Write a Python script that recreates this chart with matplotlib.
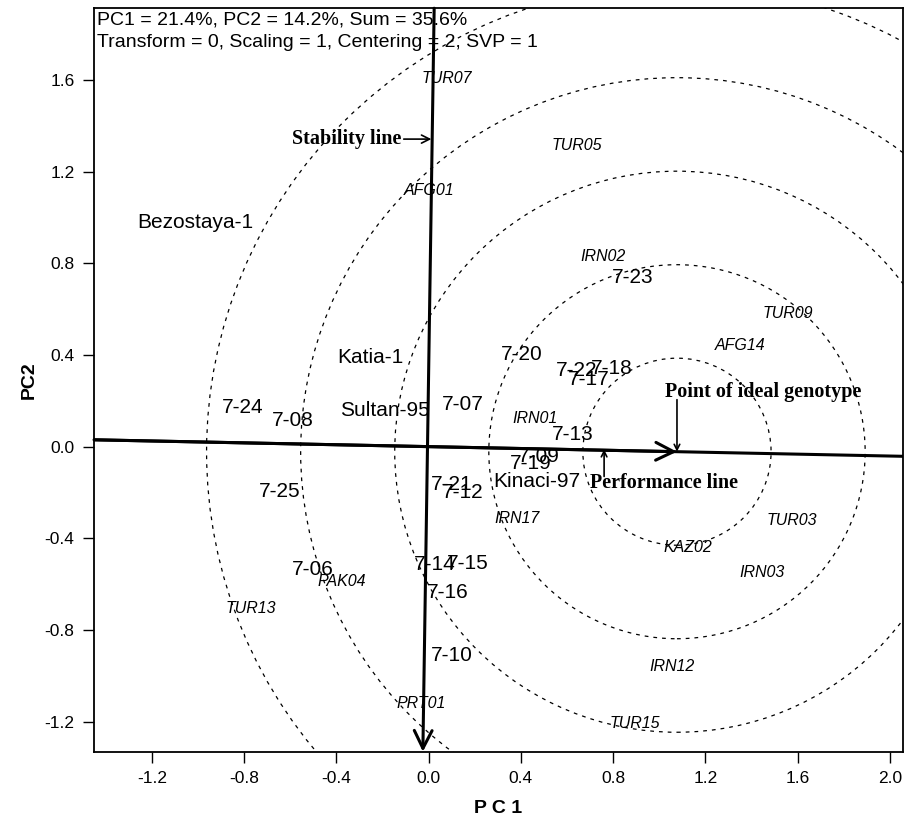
import numpy as np
from matplotlib import pyplot as plt
from matplotlib.patches import Circle

plt.rcParams['font.family'] = ['Liberation Sans', 'DejaVu Sans']

# genotypes (normal text)
gen_names = ["Bezostaya-1", "Katia-1", "Sultan-95", "7-24", "7-08", "7-07",
             "7-20", "7-23", "7-22", "7-18", "7-17", "7-13", "7-09", "7-19",
             "Kinaci-97", "7-21", "7-12", "7-25", "7-06", "7-14", "7-15",
             "7-16", "7-10"]
gen_x = [-1.013, -0.254, -0.189, -0.805, -0.588, 0.150, 0.406, 0.883, 0.640,
         0.796, 0.696, 0.623, 0.479, 0.445, 0.471, 0.102, 0.146, -0.644,
         -0.501, 0.028, 0.171, 0.085, 0.102]
gen_y = [0.980, 0.387, 0.160, 0.173, 0.116, 0.186, 0.400, 0.740, 0.334,
         0.343, 0.291, 0.051, -0.045, -0.075, -0.154, -0.167, -0.202, -0.194,
         -0.538, -0.516, -0.508, -0.638, -0.909]

# environments (italic text)
env_names = ["TUR07", "TUR05", "AFG01", "IRN02", "TUR09", "AFG14", "IRN01",
             "IRN17", "TUR03", "KAZ02", "IRN03", "PAK04", "TUR13", "IRN12",
             "PRT01", "TUR15"]
env_x = [0.080, 0.644, 0.002, 0.757, 1.559, 1.351, 0.462, 0.383, 1.577,
         1.126, 1.447, -0.375, -0.770, 1.056, -0.033, 0.896]
env_y = [1.608, 1.316, 1.119, 0.831, 0.582, 0.443, 0.125, -0.313, -0.324,
         -0.438, -0.547, -0.590, -0.708, -0.957, -1.119, -1.206]

ideal = (1.077, -0.022)
ring_radii = [0.408, 0.816, 1.224, 1.632, 2.040]
perf_line_x = [-1.451, 2.057]
perf_line_y = [0.030, -0.042]
stab_top = (0.024, 1.913)
stab_bottom = (-0.025, -1.331)

header = ["PC1 = 21.4%, PC2 = 14.2%, Sum = 35.6%",
          "Transform = 0, Scaling = 1, Centering = 2, SVP = 1"]

fig = plt.figure(figsize=(9.13, 8.23), dpi=100)
ax = fig.add_axes([0.103, 0.0866, 0.886, 0.9034])
ax.set_xlim(-1.451, 2.057)
ax.set_ylim(-1.331, 1.913)

# concentric rings around the ideal genotype
for r in ring_radii:
    c = Circle(ideal, r, fill=False, ls=(0, (3, 4)), lw=0.9, color="black")
    ax.add_patch(c)

# performance line (ATC abscissa)
ax.plot(perf_line_x, perf_line_y, color="black", lw=2.2)
ax.annotate("", xy=ideal, xytext=(perf_line_x[0], perf_line_y[0]),
            arrowprops=dict(arrowstyle="->", lw=2.2, mutation_scale=32,
                            color="black", shrinkA=0, shrinkB=0))

# stability line (ATC ordinate)
ax.annotate("", xy=stab_bottom, xytext=stab_top,
            arrowprops=dict(arrowstyle="->", lw=2.2, mutation_scale=32,
                            color="black", shrinkA=0, shrinkB=0))

for n, x, y in zip(gen_names, gen_x, gen_y):
    ax.text(x, y, n, fontsize=15, ha="center", va="center")
for n, x, y in zip(env_names, env_x, env_y):
    ax.text(x, y, n, fontsize=11.5, style="italic", ha="center", va="center")

serif = dict(family="Liberation Serif", fontweight="bold", fontsize=14.5)
small_arrow = dict(arrowstyle="->", lw=1.2, color="black",
                   shrinkA=0, shrinkB=0)

ax.annotate("Stability line", xy=(0.012, 1.342), xytext=(-0.12, 1.342),
            ha="right", va="center", arrowprops=small_arrow, **serif)

ax.text(1.026, 0.238, "Point of ideal genotype", ha="left", va="center",
        **serif)
ax.annotate("", xy=ideal, xytext=(ideal[0], 0.205), arrowprops=small_arrow)

ax.text(0.70, -0.158, "Performance line", ha="left", va="center", **serif)
ax.annotate("", xy=(0.761, -0.012), xytext=(0.761, -0.13),
            arrowprops=small_arrow)

ax.text(0.004, 0.995, header[0] + "\n" + header[1], transform=ax.transAxes,
        ha="left", va="top", fontsize=14, linespacing=1.4)

ax.set_xticks(np.arange(-1.2, 2.01, 0.4))
ax.set_yticks(np.arange(-1.2, 1.61, 0.4))
ax.xaxis.set_major_formatter(plt.FormatStrFormatter("%.1f"))
ax.yaxis.set_major_formatter(plt.FormatStrFormatter("%.1f"))
ax.tick_params(direction="out", length=8, width=1, labelsize=12.5, pad=6)
for s in ax.spines.values():
    s.set_linewidth(1.3)

ax.set_xlabel("P C 1", fontsize=14, fontweight="bold", labelpad=10)
ax.set_ylabel("PC2", fontsize=14, fontweight="bold", labelpad=5)

fig.savefig("out.png", dpi=100)
